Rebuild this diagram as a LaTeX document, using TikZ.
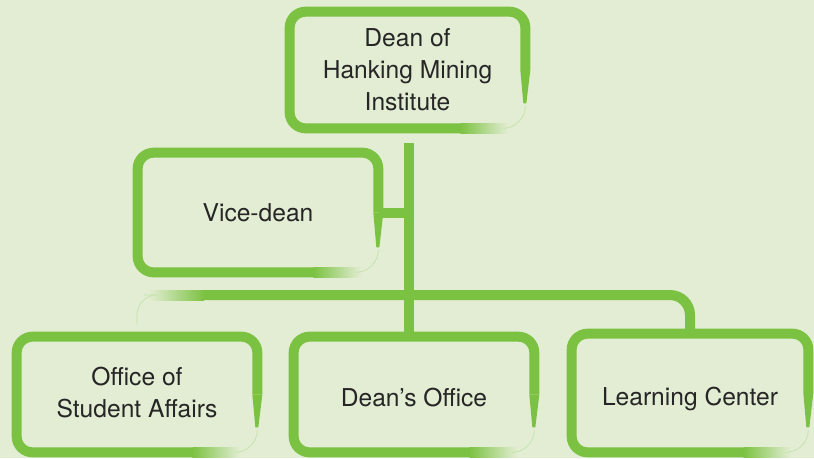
\documentclass[tikz,border=0pt]{standalone}
\usepackage{fontspec}
\setmainfont{TeX Gyre Heros}
\usetikzlibrary{calc}

\definecolor{bgcol}{HTML}{E2EDD3}
\definecolor{leaf}{HTML}{7CC242}

\tikzset{
	box/.style = {minimum width=4.8cm, minimum height=2.3cm, align=center,
		text=black!85, font=\fontsize{14}{18.2}\selectfont},
	low/.style = {text height=#1, text depth=0pt},
	brush/.style = {draw=leaf, line width=0.2cm, rounded corners=0.32cm},
	bar/.style = {draw=leaf, line width=0.2cm},
}

% hand-painted outline round a node
\newcommand{\brushbox}[1]{
	\draw[brush] (#1.east) -- (#1.north east) -- (#1.north west) -- (#1.south west) -- ($(#1.south east)+(-1.3cm,0)$);
	\shade[left color=leaf, right color=bgcol] ($(#1.south east)+(-1.3cm,-0.1cm)$) rectangle ($(#1.south east)+(-0.35cm,0.1cm)$);
	\fill[leaf] ($(#1.east)+(-0.1cm,0)$) -- ($(#1.east)+(0.1cm,0)$) -- ($(#1.south east)+(0.02cm,0.5cm)$) -- ($(#1.south east)+(-0.04cm,0.5cm)$) -- cycle;
	\draw[leaf!45, line width=0.4pt] ($(#1.south east)+(-0.45cm,0)$) arc[start angle=270, end angle=360, radius=0.45cm];
}

\begin{document}
\begin{tikzpicture}[x=0.02cm, y=-0.02cm]
	\fill[bgcol] (0,0) rectangle (814,458);
	\useasboundingbox (0,0) rectangle (814,458);

	\node[box, minimum width=4.7cm, minimum height=2.32cm] (dean) at (407.5,70) {Dean of\\Hanking Mining\\Institute};
	\node[box, minimum height=2.38cm] (vice) at (258,212.5) {Vice-dean};
	\node[box, low=2.56em] (osa) at (137,394.5) {Office of\\Student Affairs};
	\node[box, low=1.4em] (office) at (414,394.5) {Dean’s Office};
	\node[box, low=1.4em, minimum width=4.72cm, minimum height=2.36cm] (learn) at (690,393) {Learning Center};

	\foreach \b in {dean,vice,osa,office,learn} {
		\brushbox{\b}
	}

	% connectors
	\coordinate (fork) at (409,295);
	\draw[bar] ([yshift=-0.3cm]dean.south -| fork) -- (fork |- office.north);
	\draw[bar] (vice.east) -- (vice.east -| fork);
	\draw[bar, rounded corners=0.4cm] ($(fork)+(-4.1cm,0)$) -- (fork -| learn.north) -- (learn.north);
	\shade[left color=bgcol, right color=leaf] ($(fork)+(-5.2cm,-0.1cm)$) rectangle ($(fork)+(-4.1cm,0.1cm)$);
	\draw[leaf!45, line width=0.4pt, rounded corners=0.4cm] ($(fork)+(-5.3cm,0)$) -- (fork -| osa.north) -- ([yshift=0.25cm]osa.north);
\end{tikzpicture}
\end{document}
